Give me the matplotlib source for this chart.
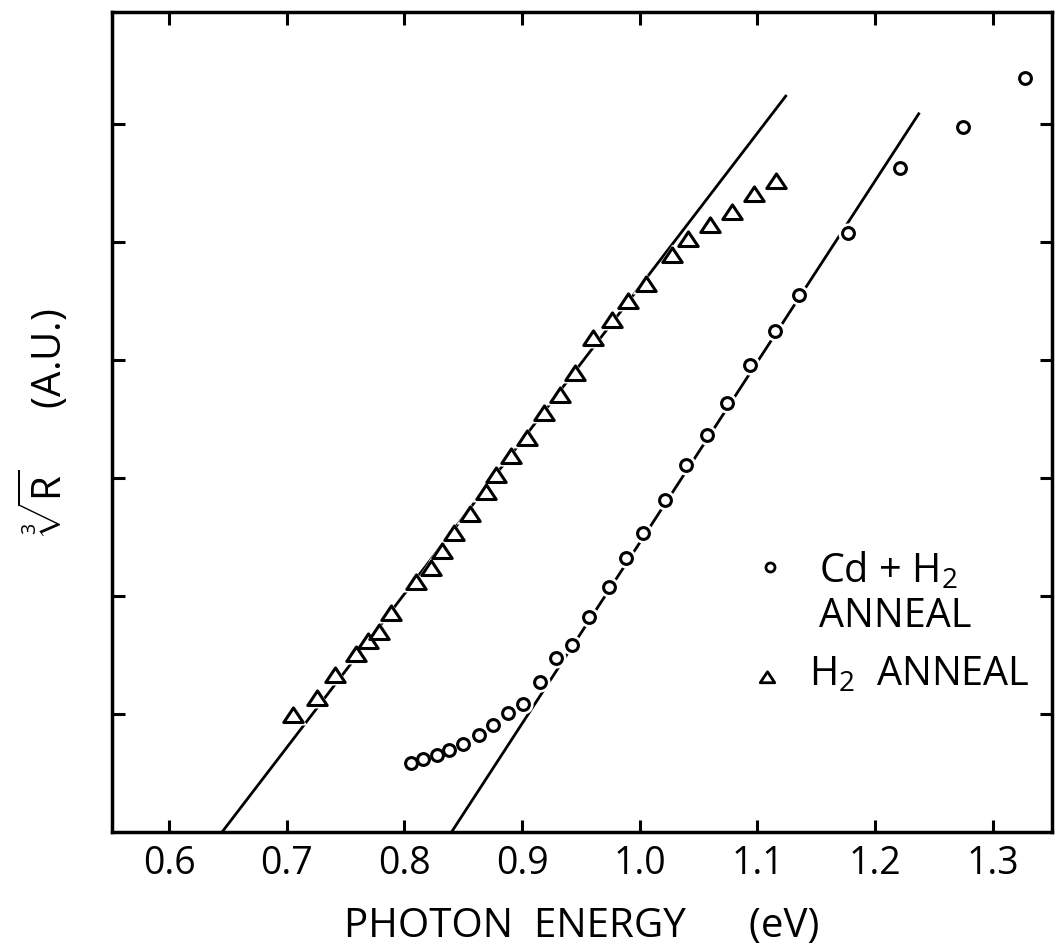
import matplotlib
matplotlib.use("Agg")
import matplotlib.pyplot as plt
from matplotlib.lines import Line2D
from matplotlib.path import Path

plt.rcParams['font.family'] = ['Open Sans', 'DejaVu Sans']
plt.rcParams['mathtext.fontset'] = 'custom'
plt.rcParams['mathtext.rm'] = 'Open Sans'
plt.rcParams['mathtext.it'] = 'Open Sans'

# H2 anneal (triangles)
h2_energy = [0.705, 0.726, 0.741, 0.759, 0.769, 0.778, 0.789, 0.810, 0.823, 0.832,
             0.842, 0.856, 0.869, 0.878, 0.891, 0.904, 0.919, 0.932, 0.945, 0.960,
             0.976, 0.990, 1.005, 1.027, 1.041, 1.060, 1.078, 1.097, 1.116]
h2_root = [0.99, 1.14, 1.33, 1.51, 1.62, 1.70, 1.86, 2.12, 2.24, 2.38,
           2.54, 2.70, 2.88, 3.03, 3.19, 3.34, 3.55, 3.71, 3.89, 4.19,
           4.34, 4.50, 4.65, 4.89, 5.03, 5.15, 5.26, 5.41, 5.52]

# Cd + H2 anneal (circles)
cd_energy = [0.806, 0.816, 0.828, 0.838, 0.850, 0.863, 0.875, 0.888, 0.901, 0.915,
             0.929, 0.942, 0.957, 0.974, 0.988, 1.003, 1.021, 1.039, 1.057, 1.074,
             1.094, 1.115, 1.135, 1.177, 1.221, 1.275, 1.327]
cd_root = [0.59, 0.62, 0.65, 0.70, 0.75, 0.82, 0.91, 1.01, 1.09, 1.27,
           1.48, 1.59, 1.82, 2.08, 2.32, 2.54, 2.82, 3.11, 3.37, 3.64,
           3.96, 4.25, 4.55, 5.08, 5.63, 5.98, 6.39]

# straight-line extrapolations to the energy axis
fit_h2_x = [0.645, 1.124]
fit_h2_y = [0.0, 6.24]
fit_cd_x = [0.840, 1.237]
fit_cd_y = [0.0, 6.09]

xticks = [0.6, 0.7, 0.8, 0.9, 1.0, 1.1, 1.2, 1.3]
xticklabels = ['0.6', '0.7', '0.8', '0.9', '1.0', '1.1', '1.2', '1.3']
yticks = [1, 2, 3, 4, 5, 6]

# slightly flattened open triangle
tri = Path([(-1, -0.72), (1, -0.72), (0, 0.78), (-1, -0.72)], closed=True)

fig = plt.figure(figsize=(10.57, 9.51), dpi=100)
ax = fig.add_axes([0.106, 0.125, 0.889, 0.862])

ax.plot(fit_h2_x, fit_h2_y, color='black', lw=2, zorder=2)
ax.plot(fit_cd_x, fit_cd_y, color='black', lw=2, zorder=2)

# white halo around markers breaks the fit lines like the hand-drawn original
ax.plot(h2_energy, h2_root, ls='none', marker=tri, ms=20, mfc='white', mec='white', mew=0, zorder=3)
ax.plot(cd_energy, cd_root, ls='none', marker='o', ms=14.5, mfc='white', mec='white', mew=0, zorder=3)

ax.plot(h2_energy, h2_root, ls='none', marker=tri, ms=14, mfc='white', mec='black', mew=2.2, zorder=4)
ax.plot(cd_energy, cd_root, ls='none', marker='o', ms=8.5, mfc='white', mec='black', mew=2.2, zorder=4)

ax.set_xlim(0.5516, 1.350)
ax.set_ylim(0, 6.95)
ax.set_xticks(xticks)
ax.set_xticklabels(xticklabels)
ax.set_yticks(yticks)
ax.set_yticklabels([])
ax.tick_params(direction='in', length=9, width=2.2, top=True, right=True,
               labelsize=27, pad=9)
for s in ax.spines.values():
    s.set_linewidth(2.5)

ax.set_xlabel('PHOTON  ENERGY      (eV)', fontsize=29, labelpad=17)
ax.set_ylabel(r'$\sqrt[3]{\mathrm{R}}$      (A.U.)', fontsize=29, labelpad=20)

# key
ax.add_line(Line2D([0.700], [0.323], transform=ax.transAxes, marker='o', ms=6.5,
                   mfc='white', mec='black', mew=2, ls='none'))
ax.text(0.752, 0.318, r'Cd + H$_2$', transform=ax.transAxes, fontsize=28.5, va='center')
ax.text(0.752, 0.263, 'ANNEAL', transform=ax.transAxes, fontsize=28.5, va='center')
ax.add_line(Line2D([0.697], [0.189], transform=ax.transAxes, marker=tri, ms=10.5,
                   mfc='white', mec='black', mew=2, ls='none'))
ax.text(0.742, 0.192, r'H$_2$  ANNEAL', transform=ax.transAxes, fontsize=28.5, va='center')

fig.savefig('out.png', dpi=100)
